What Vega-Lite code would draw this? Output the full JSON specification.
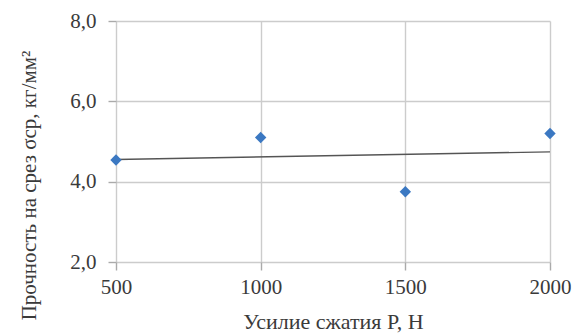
{
  "$schema": "https://vega.github.io/schema/vega-lite/v6.json",
  "width": 434,
  "height": 241,
  "autosize": {"type": "none"},
  "padding": {"left": 116, "top": 21, "right": 29, "bottom": 74},
  "background": "white",
  "config": {
    "view": {"stroke": null},
    "font": "Liberation Serif",
    "axis": {
      "labelFont": "Liberation Serif",
      "titleFont": "Liberation Serif",
      "labelFontSize": 21,
      "titleFontSize": 22,
      "labelColor": "#3a3a3a",
      "titleColor": "#3a3a3a",
      "titleFontWeight": "normal",
      "gridColor": "#cccccc",
      "gridWidth": 1.4,
      "domain": false,
      "labelFlush": false
    }
  },
  "data": {
    "values": [
      {"P": 500, "s": 4.54},
      {"P": 1000, "s": 5.10},
      {"P": 1500, "s": 3.75},
      {"P": 2000, "s": 5.20}
    ]
  },
  "layer": [
    {
      "transform": [{"regression": "s", "on": "P"}],
      "mark": {"type": "line", "color": "#555555", "strokeWidth": 1.4},
      "encoding": {
        "x": {"field": "P", "type": "quantitative"},
        "y": {"field": "s", "type": "quantitative"}
      }
    },
    {
      "mark": {"type": "point", "shape": "diamond", "filled": true, "color": "#3b78c2", "opacity": 1, "size": 130},
      "encoding": {
        "x": {
          "field": "P",
          "type": "quantitative",
          "scale": {"domain": [500, 2000], "nice": false, "zero": false},
          "axis": {
            "values": [500, 1000, 1500, 2000],
            "title": "Усилие сжатия P, Н",
            "ticks": true,
            "tickSize": 8,
            "tickColor": "#aaaaaa",
            "tickWidth": 1.4,
            "labelPadding": 6,
            "titlePadding": 14,
            "format": "d"
          }
        },
        "y": {
          "field": "s",
          "type": "quantitative",
          "scale": {"domain": [2, 8], "nice": false, "zero": false},
          "axis": {
            "values": [2, 4, 6, 8],
            "title": "Прочность на срез σср, кг/мм²",
            "titleFontSize": 21,
            "ticks": true,
            "tickSize": 8,
            "tickColor": "#aaaaaa",
            "tickWidth": 1.4,
            "labelExpr": "replace(format(datum.value, '.1f'), '.', ',')",
            "labelPadding": 12,
            "titlePadding": 30,
            "titleY": 164
          }
        }
      }
    }
  ]
}
